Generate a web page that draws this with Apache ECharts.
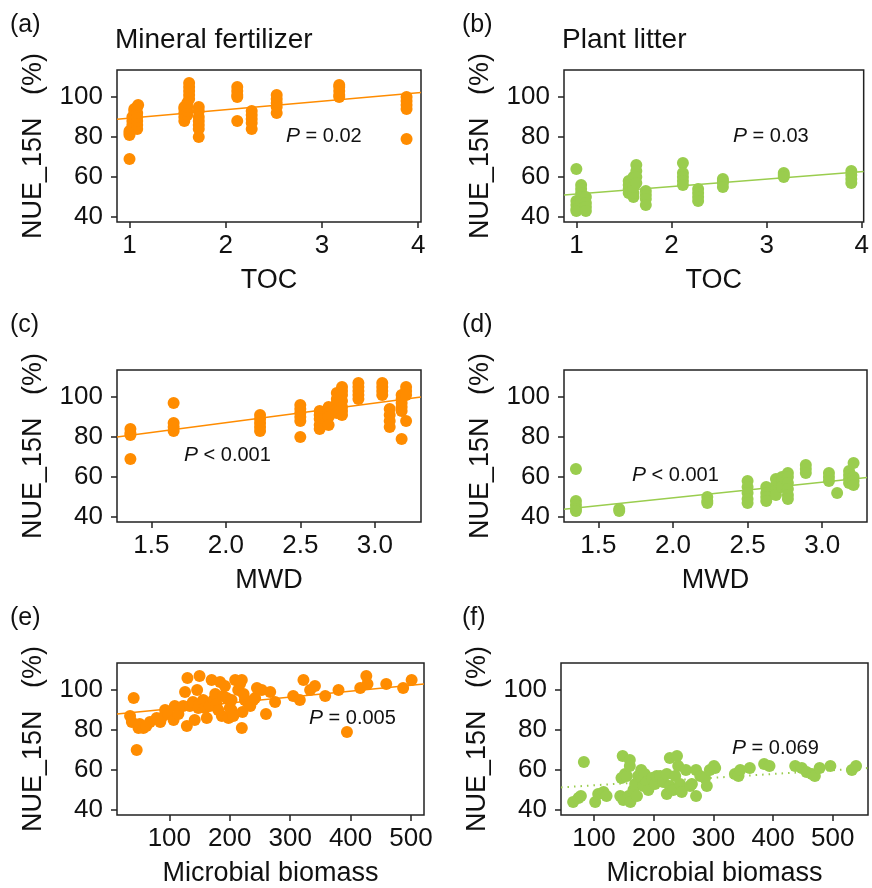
<!DOCTYPE html>
<html>
<head>
<meta charset="utf-8">
<script src="https://cdn.jsdelivr.net/npm/echarts@6/dist/echarts.min.js"></script>
<style>
  html, body { margin: 0; padding: 0; background: #fff; }
  #chart { width: 872px; height: 888px; }
</style>
</head>
<body>
<div id="chart"></div>
<script>
// 颜色
var orange = '#FF8C00';
var green = '#9ACD4E';
var font = 'Liberation Sans, Arial, Helvetica, sans-serif';

// (a) 矿物肥料 - TOC
var pointsA = [
    [1.00, 69], [1.00, 81], [1.00, 82], [1.00, 83],
    [1.03, 84], [1.03, 86], [1.03, 88], [1.03, 90],
    [1.05, 91], [1.05, 93], [1.05, 94],
    [1.08, 84], [1.08, 86], [1.08, 88], [1.08, 90], [1.08, 92], [1.08, 95], [1.09, 96],
    [1.57, 88], [1.57, 90], [1.57, 92], [1.57, 94], [1.57, 95],
    [1.60, 91], [1.60, 93], [1.60, 95], [1.60, 97],
    [1.62, 99], [1.62, 101], [1.62, 103], [1.62, 105], [1.62, 107],
    [1.72, 95], [1.72, 93], [1.72, 90], [1.72, 88], [1.72, 86], [1.72, 84], [1.72, 80],
    [2.12, 105], [2.12, 103], [2.12, 101], [2.12, 100], [2.12, 88],
    [2.27, 93], [2.27, 91], [2.27, 89], [2.27, 87], [2.27, 84],
    [2.53, 101], [2.53, 99], [2.53, 97], [2.53, 95], [2.53, 92],
    [3.18, 106], [3.18, 105], [3.18, 103], [3.18, 101], [3.18, 100],
    [3.88, 100], [3.88, 98], [3.88, 96], [3.88, 94], [3.88, 79]
];
var fitA = [[0.87, 88.9], [4.03, 102.3]];

// (b) 植物凋落物 - TOC
var pointsB = [
    [1.00, 64], [1.00, 48], [1.00, 46], [1.00, 44], [1.00, 43],
    [1.05, 56], [1.05, 54], [1.05, 52], [1.05, 50], [1.05, 48],
    [1.10, 50], [1.10, 47], [1.10, 45], [1.10, 43],
    [1.55, 58], [1.55, 56], [1.55, 54], [1.55, 52],
    [1.60, 50], [1.60, 52], [1.60, 55], [1.60, 60],
    [1.63, 66], [1.63, 63], [1.63, 60], [1.63, 57],
    [1.73, 53], [1.73, 51], [1.73, 49], [1.73, 46],
    [2.12, 67], [2.12, 62], [2.12, 60], [2.12, 58], [2.12, 56],
    [2.28, 54], [2.28, 52], [2.28, 50], [2.28, 48],
    [2.54, 59], [2.54, 58], [2.54, 57], [2.54, 55],
    [3.18, 62], [3.18, 61], [3.18, 60],
    [3.89, 63], [3.89, 61], [3.89, 59], [3.89, 57]
];
var fitB = [[0.87, 51.0], [4.02, 62.7]];

// (c) 矿物肥料 - MWD
var pointsC = [
    [1.36, 84], [1.36, 82], [1.36, 81], [1.36, 69],
    [1.65, 97], [1.65, 87], [1.65, 85], [1.65, 83],
    [2.23, 91], [2.23, 89], [2.23, 87], [2.23, 85], [2.23, 83],
    [2.50, 96], [2.50, 94], [2.50, 92], [2.50, 90], [2.50, 88], [2.50, 80],
    [2.63, 93], [2.63, 91], [2.63, 89], [2.63, 86], [2.63, 84],
    [2.69, 95], [2.69, 92], [2.69, 90], [2.69, 86],
    [2.745, 102], [2.745, 99], [2.745, 97], [2.745, 94], [2.745, 92],
    [2.78, 105], [2.78, 103], [2.78, 101], [2.78, 98], [2.78, 95], [2.78, 93], [2.78, 91],
    [2.89, 107], [2.89, 105], [2.89, 103], [2.89, 101], [2.89, 99],
    [3.05, 107], [3.05, 105], [3.05, 103], [3.05, 101],
    [3.10, 94], [3.10, 91], [3.10, 88], [3.10, 85],
    [3.18, 101], [3.18, 99], [3.18, 97], [3.18, 95], [3.18, 93], [3.18, 79],
    [3.21, 105], [3.21, 103], [3.21, 101], [3.21, 88]
];
var fitC = [[1.27, 80.0], [3.31, 100.0]];

// (d) 植物凋落物 - MWD
var pointsD = [
    [1.35, 64], [1.35, 48], [1.35, 46], [1.35, 44], [1.35, 43],
    [1.64, 44], [1.64, 43],
    [2.23, 50], [2.23, 48], [2.23, 47],
    [2.50, 58], [2.50, 55], [2.50, 52], [2.50, 49], [2.50, 47],
    [2.625, 55], [2.625, 52], [2.625, 50], [2.625, 48],
    [2.69, 59], [2.69, 56], [2.69, 53], [2.69, 51],
    [2.73, 60], [2.73, 58], [2.73, 55],
    [2.77, 62], [2.77, 60], [2.77, 57], [2.77, 54], [2.77, 51], [2.77, 49],
    [2.89, 66], [2.89, 64], [2.89, 62],
    [3.045, 62], [3.045, 60], [3.045, 58],
    [3.10, 52],
    [3.18, 63], [3.18, 61], [3.18, 59], [3.18, 57],
    [3.21, 67], [3.21, 60], [3.21, 58], [3.21, 56]
];
var fitD = [[1.27, 43.9], [3.30, 59.8]];

// (e) 矿物肥料 - 微生物量
var pointsE = [
    [35, 87], [38, 84], [41, 96], [46, 70], [49, 81], [51, 83], [57, 81], [62, 82],
    [68, 84], [79, 86], [85, 84], [87, 86], [93, 90], [98, 88], [107, 85], [109, 92],
    [115, 88], [123, 92], [126, 99], [129, 82], [130, 106], [134, 92], [139, 94], [142, 85],
    [146, 100], [148, 91], [150, 107], [150, 93], [156, 95], [159, 91], [162, 86], [167, 92],
    [170, 105], [173, 95], [176, 98], [178, 93], [181, 90], [184, 104], [187, 87], [189, 97],
    [192, 102], [195, 96], [198, 86], [200, 91], [203, 90], [203, 95], [206, 87], [209, 105],
    [214, 100], [217, 103], [220, 105], [220, 81], [221, 89], [223, 98], [225, 95], [231, 93],
    [234, 92], [239, 95], [242, 96], [245, 101], [253, 100], [260, 88], [267, 99], [275, 94],
    [305, 97], [316, 95], [322, 105], [333, 100], [341, 102], [358, 97], [380, 100], [394, 79],
    [416, 101], [426, 107], [428, 103], [459, 103], [487, 101], [501, 105]
];
var fitE = [[13.4, 88.0], [521.5, 103.0]];

// (f) 植物凋落物 - 微生物量
var pointsF = [
    [65, 44], [74, 46], [78, 47], [83, 64], [102, 44], [107, 48], [116, 49], [121, 47],
    [144, 47], [146, 56], [148, 67], [149, 45], [152, 58], [155, 57], [158, 47], [160, 65],
    [160, 62], [161, 44], [166, 50], [169, 53], [172, 47], [174, 57], [179, 60], [180, 56],
    [183, 52], [185, 58], [188, 54], [191, 50], [197, 56], [202, 53], [205, 57], [211, 57],
    [216, 54], [222, 58], [222, 48], [227, 66], [227, 52], [233, 50], [236, 57], [239, 67],
    [241, 62], [244, 53], [247, 49], [254, 60], [261, 52], [264, 53], [271, 47], [271, 60],
    [278, 57], [286, 56], [289, 52], [294, 60], [301, 62], [303, 61], [336, 58], [342, 57],
    [345, 60], [361, 61], [385, 63], [394, 62], [437, 62], [448, 61], [456, 59], [465, 58],
    [470, 57], [478, 61], [496, 62], [532, 60], [539, 62]
];
var fitF = [[44.7, 51.3], [559, 61.0]];

// 刻度
var yTicks = [40, 60, 80, 100];
var tocTicks = [1, 2, 3, 4];
var mwdTicks = [1.5, 2.0, 2.5, 3.0];
var mbTicks = [100, 200, 300, 400, 500];

// 面板设置
var panels = [
    { tag: '(a)', title: 'Mineral fertilizer', pts: pointsA, fit: fitA, color: orange, xName: 'TOC', xTicks: tocTicks, xMin: 0.87, xMax: 4.03, dec: 0, p: '= 0.02', grid: { left: 117, top: 70, width: 304, height: 152 }, pPos: [286, 138] },
    { tag: '(b)', title: 'Plant litter', pts: pointsB, fit: fitB, color: green, xName: 'TOC', xTicks: tocTicks, xMin: 0.87, xMax: 4.02, dec: 0, p: '= 0.03', grid: { left: 564, top: 70, width: 304, height: 152 }, pPos: [733, 138] },
    { tag: '(c)', title: '', pts: pointsC, fit: fitC, color: orange, xName: 'MWD', xTicks: mwdTicks, xMin: 1.27, xMax: 3.31, dec: 1, p: '< 0.001', grid: { left: 117, top: 370, width: 304, height: 152 }, pPos: [184, 457] },
    { tag: '(d)', title: '', pts: pointsD, fit: fitD, color: green, xName: 'MWD', xTicks: mwdTicks, xMin: 1.27, xMax: 3.30, dec: 1, p: '< 0.001', grid: { left: 564, top: 370, width: 303, height: 152 }, pPos: [632, 477] },
    { tag: '(e)', title: '', pts: pointsE, fit: fitE, color: orange, xName: 'Microbial biomass', xTicks: mbTicks, xMin: 13.4, xMax: 521.5, dec: 0, p: '= 0.005', grid: { left: 117, top: 663, width: 307, height: 152 }, pPos: [309, 720] },
    { tag: '(f)', title: '', pts: pointsF, fit: fitF, color: green, xName: 'Microbial biomass', xTicks: mbTicks, xMin: 44.7, xMax: 559, dec: 0, p: '= 0.069', grid: { left: 561, top: 663, width: 307, height: 152 }, pPos: [732, 750], dotted: true }
];

var grids = [], xAxes = [], yAxes = [], series = [], graphics = [];
var tagPos = [[10, 27], [462, 27], [10, 327], [462, 327], [10, 620], [462, 620]];

panels.forEach(function (pn, i) {
    grids.push({
        left: pn.grid.left, top: pn.grid.top, width: pn.grid.width, height: pn.grid.height,
        show: true, borderColor: '#222', borderWidth: 1.5, backgroundColor: 'transparent'
    });
    xAxes.push({
        gridIndex: i, type: 'value', min: pn.xMin, max: pn.xMax,
        name: pn.xName, nameLocation: 'middle', nameGap: 45,
        nameTextStyle: { fontSize: 27, color: '#111', fontFamily: font },
        axisLine: { show: false },
        axisTick: { show: true, length: 6, customValues: pn.xTicks, lineStyle: { color: '#222', width: 1.5 } },
        axisLabel: {
            customValues: pn.xTicks, fontSize: 26, color: '#111', fontFamily: font, margin: 11,
            formatter: function (v) { return pn.dec ? v.toFixed(pn.dec) : String(v); }
        },
        splitLine: { show: false }
    });
    yAxes.push({
        gridIndex: i, type: 'value', min: 37.5, max: 113.5,
        name: 'NUE_15N   (%)', nameLocation: 'middle', nameGap: 70,
        nameTextStyle: { fontSize: 27, color: '#111', fontFamily: font },
        axisLine: { show: false },
        axisTick: { show: true, length: 6, customValues: yTicks, lineStyle: { color: '#222', width: 1.5 } },
        axisLabel: { customValues: yTicks, fontSize: 26, color: '#111', fontFamily: font, margin: 14 },
        splitLine: { show: false }
    });
    series.push({
        type: 'scatter', xAxisIndex: i, yAxisIndex: i, data: pn.pts,
        symbolSize: 12, itemStyle: { color: pn.color, opacity: 1 }, z: 3
    });
    series.push({
        type: 'line', xAxisIndex: i, yAxisIndex: i, data: pn.fit,
        symbol: 'none', silent: true, z: 2,
        lineStyle: { color: pn.color, width: pn.dotted ? 2 : 1.5, type: pn.dotted ? [1.5, 5] : 'solid' }
    });
    graphics.push({
        type: 'text', left: tagPos[i][0], top: tagPos[i][1] - 14,
        style: { text: pn.tag, fontSize: 25, fill: '#111', fontFamily: font }
    });
    if (pn.title) {
        graphics.push({
            type: 'text', left: pn.grid.left - 2, top: 26,
            style: { text: pn.title, fontSize: 28, fill: '#111', fontFamily: font }
        });
    }
    graphics.push({
        type: 'text', left: pn.pPos[0], top: pn.pPos[1] - 12,
        style: {
            text: '{i|P} ' + pn.p, fontSize: 20, fill: '#111', fontFamily: font,
            rich: { i: { fontStyle: 'italic', fontSize: 21, fontFamily: font, fill: '#111' } }
        }
    });
});

var chart = echarts.init(document.getElementById('chart'));
chart.setOption({
    backgroundColor: '#fff',
    animation: false,
    grid: grids,
    xAxis: xAxes,
    yAxis: yAxes,
    series: series,
    graphic: graphics
});
</script>
</body>
</html>
